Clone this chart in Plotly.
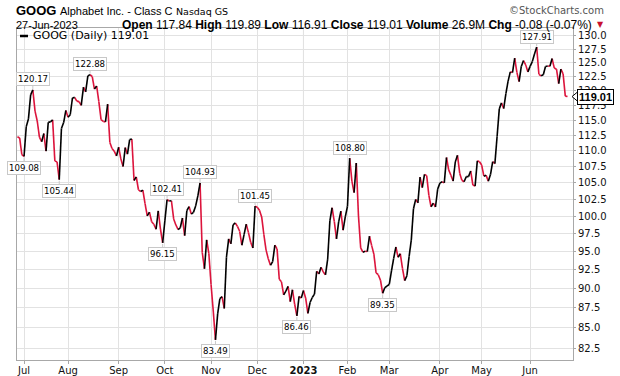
import math
import pandas as pd
import plotly.graph_objects as go

# ---------------- data ----------------
START_DATE = "2022-06-28"
END_DATE = "2023-06-27"
HOLIDAYS = ["2022-07-04", "2022-09-05", "2022-11-24", "2022-12-26", "2023-01-02",
            "2023-01-16", "2023-02-20", "2023-04-07", "2023-05-29", "2023-06-19"]

CLOSE_2022_06 = [112.25, 112.05, 109.37]
CLOSE_2022_07 = [109.08, 113.89, 115.21, 119.31, 120.17, 116.52, 114.85, 112.19, 111.44, 112.77,
                 109.91, 114.62, 114.70, 115.04, 108.36, 108.21, 105.44, 113.60, 114.59, 116.64]
CLOSE_2022_08 = [115.48, 115.90, 118.78, 118.87, 118.22, 118.14, 117.50, 120.65, 119.82, 122.65,
                 122.88, 122.51, 120.32, 120.86, 118.12, 115.07, 114.77, 114.70, 117.70, 111.30,
                 110.34, 109.91, 109.15]
CLOSE_2022_09 = [110.55, 108.68, 107.48, 110.48, 109.42, 111.78, 111.87, 105.31, 105.87, 103.90,
                 103.63, 103.85, 101.83, 100.01, 100.57, 99.17, 98.81, 98.09, 100.74, 98.09, 96.15]
CLOSE_2022_10 = [99.30, 102.41, 102.22, 102.24, 99.57, 98.71, 98.05, 98.30, 99.71, 97.18,
                 100.78, 101.39, 100.29, 100.53, 101.48, 102.97, 104.93, 94.82, 92.60, 96.58, 94.66]
CLOSE_2022_11 = [90.50, 87.07, 83.49, 86.70, 88.65, 88.91, 87.40, 94.17, 96.73, 96.03,
                 98.72, 98.99, 98.50, 97.80, 95.83, 97.33, 98.82, 97.60, 96.25, 95.44, 101.45]
CLOSE_2022_12 = [101.28, 100.83, 99.87, 97.31, 95.15, 93.95, 93.07, 93.56, 95.85, 95.31,
                 91.20, 90.86, 89.15, 89.63, 90.25, 88.26, 89.81, 87.93, 86.46, 88.95, 88.73]
CLOSE_2023_01 = [89.70, 88.71, 86.77, 88.16, 88.80, 89.24, 92.26, 91.91, 92.80, 92.16,
                 91.78, 93.91, 99.28, 101.21, 99.21, 96.73, 99.16, 100.71, 97.95, 99.87]
CLOSE_2023_02 = [101.43, 108.80, 105.22, 103.47, 108.04, 100.00, 95.46, 94.86, 95.00, 94.95,
                 97.10, 95.78, 94.59, 92.05, 91.80, 91.07, 89.35, 90.10, 90.30]
CLOSE_2023_03 = [90.51, 92.31, 94.02, 95.58, 94.17, 94.65, 92.66, 91.01, 91.66, 94.25,
                 96.55, 101.07, 102.46, 101.93, 105.84, 104.22, 106.26, 106.06, 103.06, 101.36,
                 101.90, 101.32, 104.00]
CLOSE_2023_04 = [104.91, 105.12, 104.95, 108.90, 106.95, 106.12, 105.22, 108.19, 109.24, 106.44,
                 105.35, 105.12, 105.90, 105.91, 106.78, 104.61, 104.45, 108.37, 108.22]
CLOSE_2023_05 = [107.71, 105.98, 106.12, 105.21, 106.22, 108.24, 107.94, 112.28, 116.90, 117.92,
                 116.96, 119.51, 121.72, 123.37, 123.25, 125.87, 123.29, 121.64, 124.35, 125.43,
                 124.64, 123.37]
CLOSE_2023_06 = [124.37, 125.23, 126.63, 127.91, 122.94, 122.67, 122.87, 124.35, 124.43, 124.38,
                 125.79, 124.06, 123.85, 121.26, 123.87, 123.02, 119.09, 119.01]

MONTH_LABELS = ["Jul", "Aug", "Sep", "Oct", "Nov", "Dec", "<b>2023</b>", "Feb", "Mar", "Apr", "May", "Jun"]
MONTH_STARTS = ["2022-07", "2022-08", "2022-09", "2022-10", "2022-11", "2022-12",
                "2023-01", "2023-02", "2023-03", "2023-04", "2023-05", "2023-06"]
Y_TICKS = [82.5, 85.0, 87.5, 90.0, 92.5, 95.0, 97.5, 100.0, 102.5, 105.0, 107.5, 110.0,
           112.5, 115.0, 117.5, 120.0, 122.5, 125.0, 127.5, 130.0]

LABEL_DATES = ["2022-07-01", "2022-07-08", "2022-07-26", "2022-08-15", "2022-09-30", "2022-10-04",
               "2022-10-25", "2022-11-03", "2022-11-30", "2022-12-28", "2023-02-02", "2023-02-24",
               "2023-06-06"]
LABEL_SIDES = ["below", "above", "below", "above", "below", "above",
               "above", "below", "above", "below", "above", "below", "above"]

HEADER_SYMBOL = "GOOG"
HEADER_NAME = "Alphabet Inc. - Class C"
HEADER_EXCH = "Nasdaq GS"
HEADER_DATE = "27-Jun-2023"
HEADER_STATS = [("Open", "117.84"), ("High", "119.89"), ("Low", "116.91"), ("Close", "119.01"),
                ("Volume", "26.9M"), ("Chg", "-0.08 (-0.07%)")]
LEGEND_TEXT = "GOOG (Daily) 119.01"

closes = (CLOSE_2022_06 + CLOSE_2022_07 + CLOSE_2022_08 + CLOSE_2022_09 + CLOSE_2022_10 +
          CLOSE_2022_11 + CLOSE_2022_12 + CLOSE_2023_01 + CLOSE_2023_02 + CLOSE_2023_03 +
          CLOSE_2023_04 + CLOSE_2023_05 + CLOSE_2023_06)
dates = [d for d in pd.bdate_range(START_DATE, END_DATE) if d.strftime("%Y-%m-%d") not in HOLIDAYS]
n = min(len(dates), len(closes))
dates = dates[:n]
closes = closes[:n]
date_str = [d.strftime("%Y-%m-%d") for d in dates]
idx = list(range(n))

tickvals = []
for m in MONTH_STARTS:
    tickvals.append(next(i for i, s in enumerate(date_str) if s.startswith(m)))

# ---------------- geometry ----------------
W, H = 620, 376
ML, MR, MT, MB = 17, 47, 28, 16
PW, PH = W - ML - MR, H - MT - MB
Y_MIN, Y_MAX = 81.07, 131.52
LY0, LY1 = math.log10(Y_MIN), math.log10(Y_MAX)

def px_x(p):
    return (p - ML) / PW

def px_y(p):
    return (H - MB - p) / PH

UP = "#000000"
DOWN = "#dc143c"

# ---------------- traces ----------------
ux, uy, dx, dy = [], [], [], []
for i in range(1, n):
    if closes[i] >= closes[i - 1]:
        ux += [idx[i - 1], idx[i], None]
        uy += [closes[i - 1], closes[i], None]
    else:
        dx += [idx[i - 1], idx[i], None]
        dy += [closes[i - 1], closes[i], None]

fig = go.Figure()
fig.add_trace(go.Scatter(x=dx, y=dy, mode="lines", line=dict(color=DOWN, width=1.6),
                         hoverinfo="skip", showlegend=False))
fig.add_trace(go.Scatter(x=ux, y=uy, mode="lines", line=dict(color=UP, width=1.6),
                         hoverinfo="skip", showlegend=False))

annotations = []
for d, side in zip(LABEL_DATES, LABEL_SIDES):
    i = date_str.index(d)
    v = closes[i]
    annotations.append(dict(
        x=idx[i], y=math.log10(v), xref="x", yref="y", text=f"{v:.2f}",
        showarrow=True, arrowhead=0, arrowwidth=1, arrowcolor="#c8c8c8",
        ax=0, ay=(-10.5 if side == "above" else 11.5), standoff=1,
        bgcolor="white", bordercolor="#c8c8c8", borderwidth=1, borderpad=1,
        font=dict(family="DejaVu Sans", size=8.6, color="#000")))

# last value tag
last = closes[-1]
annotations.append(dict(
    x=1, xref="paper", y=math.log10(last), yref="y", xanchor="left", xshift=4,
    text=f"<b>{last:.2f}</b>", showarrow=False, bgcolor="white",
    bordercolor="#000", borderwidth=1, borderpad=1,
    font=dict(family="Liberation Sans", size=11, color="#000")))

# legend text
annotations.append(dict(
    x=px_x(31), y=px_y(36), xref="paper", yref="paper", xanchor="left", yanchor="middle",
    text=LEGEND_TEXT, showarrow=False,
    font=dict(family="DejaVu Sans", size=11, color="#000")))

# header
annotations.append(dict(
    x=px_x(14), y=px_y(10.5), xref="paper", yref="paper", xanchor="left", yanchor="middle",
    text=(f"<b><span style='font-family:Liberation Sans;font-size:13px'>{HEADER_SYMBOL}</span></b> "
          f"<span style='font-family:Liberation Sans'>{HEADER_NAME}</span> "
          f"<span style='font-size:9.5px'>{HEADER_EXCH}</span>"),
    showarrow=False, font=dict(family="DejaVu Sans", size=11, color="#000")))
annotations.append(dict(
    x=px_x(606), y=px_y(10.5), xref="paper", yref="paper", xanchor="right", yanchor="middle",
    text="©StockCharts.com", showarrow=False,
    font=dict(family="DejaVu Sans", size=10, color="#555")))
annotations.append(dict(
    x=px_x(14), y=px_y(24.5), xref="paper", yref="paper", xanchor="left", yanchor="middle",
    text=HEADER_DATE, showarrow=False,
    font=dict(family="Liberation Sans", size=11, color="#000")))
stats_text = " ".join(f"<b>{k}</b> {v}" for k, v in HEADER_STATS)
annotations.append(dict(
    x=px_x(594), y=px_y(24.5), xref="paper", yref="paper", xanchor="right", yanchor="middle",
    text=stats_text, showarrow=False,
    font=dict(family="Liberation Sans", size=12, color="#000")))
annotations.append(dict(
    x=px_x(595), y=px_y(24.5), xref="paper", yref="paper", xanchor="left", yanchor="middle",
    text="▼", showarrow=False, font=dict(family="DejaVu Sans", size=8, color="#c8102e")))

shapes = []
shapes.append(dict(type="line", xref="paper", yref="paper", x0=px_x(20), x1=px_x(28),
                   y0=px_y(36), y1=px_y(36), line=dict(color="#000", width=2.5)))
yi = tickvals[MONTH_LABELS.index("<b>2023</b>")]
shapes.append(dict(type="line", xref="x", yref="paper", x0=yi, x1=yi, y0=0, y1=1,
                   line=dict(color="#b4b4b4", width=1), layer="below"))
lp = (math.log10(last) - LY0) / (LY1 - LY0)
shapes.append(dict(type="path", xref="paper", yref="paper", xsizemode="pixel", ysizemode="pixel",
                   xanchor=1, yanchor=lp, path="M -1 0 L 5 5 L 5 -5 Z",
                   fillcolor="white", line=dict(color="#000", width=1)))

fig.update_layout(
    width=W, height=H, margin=dict(l=ML, r=MR, t=MT, b=MB, autoexpand=False),
    paper_bgcolor="white", plot_bgcolor="white",
    annotations=annotations, shapes=shapes, showlegend=False,
    xaxis=dict(range=[-0.2, 252.5], tickmode="array", tickvals=tickvals, ticktext=MONTH_LABELS,
               showgrid=True, gridcolor="#e2e2e2", gridwidth=1, zeroline=False,
               showline=True, linecolor="#a8a8a8", linewidth=1, mirror=True,
               ticks="outside", ticklen=3, tickcolor="#a8a8a8", ticklabelstandoff=-2,
               tickfont=dict(family="DejaVu Sans", size=10, color="#111")),
    yaxis=dict(type="log", range=[LY0, LY1], side="right", tickmode="array",
               tickvals=Y_TICKS, ticktext=[f"{t:.1f}" for t in Y_TICKS],
               showgrid=True, gridcolor="#e2e2e2", gridwidth=1, zeroline=False,
               showline=True, linecolor="#a8a8a8", linewidth=1, mirror=True,
               ticks="outside", ticklen=2, tickcolor="#a8a8a8",
               tickfont=dict(family="DejaVu Sans", size=10, color="#111")),
)

fig.write_html("out.html", config={"displayModeBar": False},
               post_script="document.body.style.margin='0';document.body.style.overflow='hidden';")
